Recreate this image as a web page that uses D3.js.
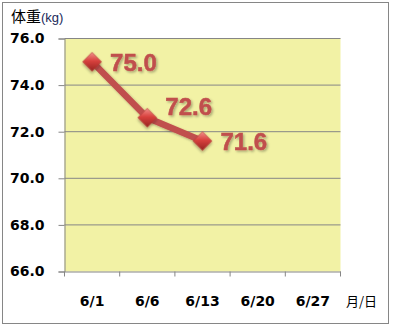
<!DOCTYPE html>
<html><head><meta charset="utf-8">
<script src="https://cdn.jsdelivr.net/npm/d3@7"></script>
<style>body{margin:0;background:#fff}svg{display:block}</style>
</head><body>
<script>
const categories = ["6/1","6/6","6/13","6/20","6/27"];
const weights = [75.0, 72.6, 71.6];
const yTicks = [66,68,70,72,74,76];

(function(){
const W=394,H=329;
const labelDy=[9,-3,9];
const svg=d3.select("body").append("svg").attr("width",W).attr("height",H);
const defs=svg.append("defs");
const g1=defs.append("linearGradient").attr("id","dg").attr("x1","0").attr("y1","0").attr("x2","1").attr("y2","1");
g1.append("stop").attr("offset","0").attr("stop-color","#f2918d");
g1.append("stop").attr("offset","0.45").attr("stop-color","#d8413d");
g1.append("stop").attr("offset","1").attr("stop-color","#952320");
const f=defs.append("filter").attr("id","sh").attr("x","-30%").attr("y","-30%").attr("width","160%").attr("height","160%");
f.append("feDropShadow").attr("dx",1.5).attr("dy",1.5).attr("stdDeviation",1).attr("flood-color","#000").attr("flood-opacity",0.3);

svg.append("rect").attr("x",2.5).attr("y",2.5).attr("width",386).attr("height",321).attr("fill","#fff").attr("stroke","#868686");

const pl=64.5,pr=340.5,pt=38.5,pb=271.5;
const x=d3.scaleBand().domain(categories).range([pl,pr]);
const y=d3.scaleLinear().domain([66,76]).range([pb,pt]);

svg.append("rect").attr("x",pl).attr("y",pt).attr("width",pr-pl).attr("height",pb-pt).attr("fill","#f2f2a5");

const gy=svg.append("g").attr("transform",`translate(${pl},0)`)
 .call(d3.axisLeft(y).tickValues(yTicks).tickSize(6).tickPadding(14).tickFormat(d3.format(".1f")));
gy.select(".domain").attr("stroke","#868686");
gy.selectAll(".tick line").attr("stroke","#868686");
gy.selectAll(".tick text").attr("font-family","DejaVu Sans").attr("font-weight","bold").attr("font-size",14).attr("fill","#000");
svg.append("g").selectAll("line").data(yTicks.slice(1)).join("line")
 .attr("x1",pl).attr("x2",pr).attr("y1",d=>y(d)).attr("y2",d=>y(d)).attr("stroke","#868686");

const gx=svg.append("g").attr("transform",`translate(0,${pb})`)
 .call(d3.axisBottom(x).tickSize(0).tickPadding(25));
gx.select(".domain").attr("stroke","#868686");
gx.selectAll(".tick text").attr("font-family","DejaVu Sans").attr("font-weight","bold").attr("font-size",14).attr("fill","#000");
const bounds=categories.map(c=>x(c)).concat([pr]);
svg.append("g").selectAll("line").data(bounds).join("line")
 .attr("x1",d=>d).attr("x2",d=>d).attr("y1",pb).attr("y2",pb+5).attr("stroke","#868686");

svg.append("text").attr("x",346).attr("y",306).attr("font-family","Noto Sans CJK JP").attr("font-size",13).attr("fill","#000").text("月/日");
const t=svg.append("text").attr("x",11).attr("y",22).attr("fill","#000");
t.append("tspan").attr("font-family","Noto Sans CJK JP").attr("font-size",15).text("体重");
t.append("tspan").attr("font-family","Liberation Sans").attr("font-size",13).attr("fill","#1a2a5a").text("(kg)");

const pts=weights.map((v,i)=>({c:categories[i],v,i}));
const line=d3.line().x(d=>x(d.c)+x.bandwidth()/2).y(d=>y(d.v));
svg.append("path").datum(pts).attr("d",line).attr("fill","none").attr("stroke","#c0504d").attr("stroke-width",6.5).attr("filter","url(#sh)");

svg.append("g").selectAll("path").data(pts).join("path")
 .attr("d",d3.symbol(d3.symbolSquare,180)())
 .attr("transform",d=>`translate(${x(d.c)+x.bandwidth()/2},${y(d.v)}) rotate(45)`)
 .attr("fill","url(#dg)").attr("stroke","#b03a37").attr("stroke-width",0.5).attr("filter","url(#sh)");

svg.append("g").selectAll("text").data(pts).join("text")
 .attr("x",d=>x(d.c)+x.bandwidth()/2+18).attr("y",d=>y(d.v)+labelDy[d.i])
 .attr("font-family","Liberation Sans").attr("font-weight","bold").attr("font-size",24)
 .attr("fill","#c0504d").attr("stroke","#c0504d").attr("stroke-width",0.5)
 .attr("filter","url(#sh)").text(d=>d3.format(".1f")(d.v));
})();
</script>
</body></html>
